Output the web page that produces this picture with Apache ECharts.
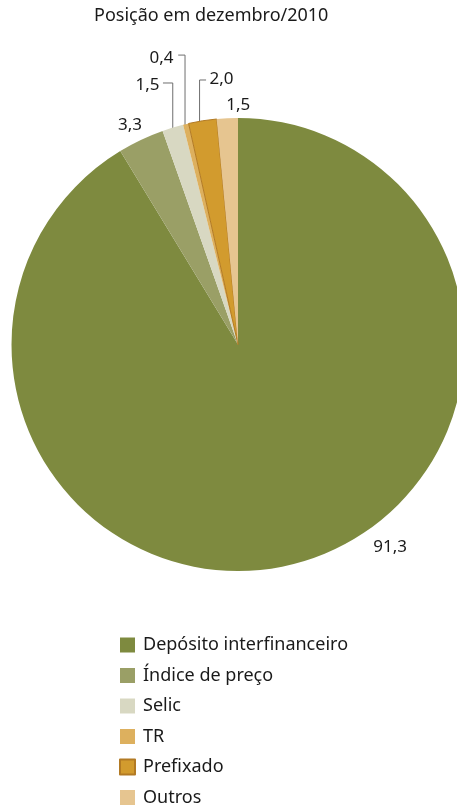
<!DOCTYPE html>
<html>
<head>
<meta charset="utf-8">
<style>
  html, body { margin: 0; padding: 0; background: #ffffff; }
  #chart { width: 457px; height: 807px; }
</style>
<script src="https://cdn.jsdelivr.net/npm/echarts@6/dist/echarts.min.js"></script>
</head>
<body>
<div id="chart"></div>
<script>
// Composição da carteira por indexador — posição em dezembro/2010 (%)
const categories = ['Depósito interfinanceiro', 'Índice de preço', 'Selic', 'TR', 'Prefixado', 'Outros'];
const shares = [91.3, 3.3, 1.5, 0.4, 2.0, 1.5];
const titleText = 'Posição em dezembro/2010';

const colors = ['#7e8a3f', '#9a9f66', '#d8d8c2', '#ddb05e', '#d29b2e', '#e6c590'];
const FONT = '"Noto Sans", "Open Sans", sans-serif';

// Pie geometry (px)
const CX = 238, CY = 344.5, R = 226.5;

// Label placement relative to each slice's rim point at its mid-angle:
// label: [dx, dy] for the text centre; line: null or {bendY, endDx, x} for an elbow leader
const labelPlacement = [
  { label: [91, -15.5], line: null },
  { label: [-11, -14.5], line: null },
  { label: [-25.3, -42], line: { bendY: -44.6, endDx: -9.8, x: 0 } },
  { label: [-24.3, -66], line: { bendY: -69, endDx: -6.8, x: -0.8 } },
  { label: [19, -42], line: { bendY: -40.8, endDx: 6.5, x: -3 } },
  { label: [11, -13], line: null }
];

const total = shares.reduce((a, b) => a + b, 0);
function rimPoint(i) {
  let before = 0;
  for (let k = 0; k < i; k++) before += shares[k];
  const frac = (before + shares[i] / 2) / total;
  const theta = frac * 2 * Math.PI; // clockwise from 12 o'clock
  return [CX + R * Math.sin(theta), CY - R * Math.cos(theta)];
}

const fmt = v => v.toFixed(1).replace('.', ',');

const chart = echarts.init(document.getElementById('chart'), null, { renderer: 'canvas' });

chart.setOption({
  animation: false,
  backgroundColor: '#ffffff',
  title: {
    text: titleText,
    left: 94,
    top: 7,
    padding: 0,
    textStyle: { fontFamily: FONT, fontSize: 18, fontWeight: 'normal', color: '#1a1a1a' }
  },
  legend: {
    orient: 'vertical',
    left: 119,
    top: 636,
    bottom: 0,
    padding: 0,
    itemWidth: 15,
    itemHeight: 15,
    itemGap: 12.5,
    icon: 'rect',
    data: categories,
    textStyle: { fontFamily: FONT, fontSize: 18, color: '#1a1a1a', padding: [0, 0, 0, 3] }
  },
  series: [{
    type: 'pie',
    center: [CX, CY],
    radius: [0, R],
    startAngle: 90,
    clockwise: true,
    avoidLabelOverlap: false,
    silent: true,
    label: {
      show: true,
      position: 'outside',
      fontFamily: FONT,
      fontSize: 17,
      color: '#1a1a1a',
      formatter: p => fmt(p.value)
    },
    labelLine: { show: true, lineStyle: { color: '#6e6e6e', width: 1 } },
    labelLayout: function (params) {
      const i = params.dataIndex;
      const rim = rimPoint(i);
      const pl = labelPlacement[i];
      const out = {
        x: rim[0] + pl.label[0],
        y: rim[1] + pl.label[1],
        align: 'center',
        verticalAlign: 'middle',
        hideOverlap: false,
        moveOverlap: false
      };
      if (pl.line) {
        const lx = rim[0] + pl.line.x;
        const by = rim[1] + pl.line.bendY;
        out.labelLinePoints = [[lx, rim[1] + 2], [lx, by], [rim[0] + pl.line.x + pl.line.endDx, by]];
      } else {
        out.labelLinePoints = [[rim[0], rim[1]], [rim[0], rim[1]], [rim[0], rim[1]]];
      }
      return out;
    },
    data: categories.map((name, i) => ({
      name: name,
      value: shares[i],
      itemStyle: i === 4
        ? { color: colors[i], borderColor: '#b27a24', borderWidth: 1 }
        : { color: colors[i], borderWidth: 0 },
      labelLine: { show: !!labelPlacement[i].line }
    }))
  }]
});
</script>
</body>
</html>
